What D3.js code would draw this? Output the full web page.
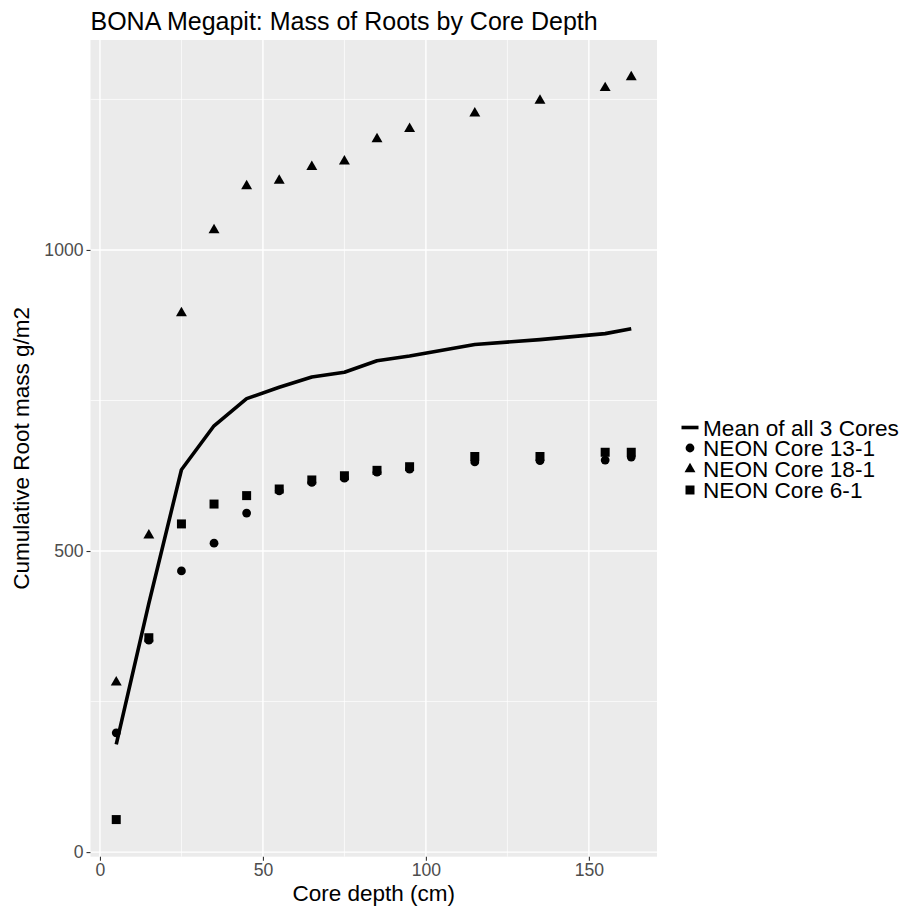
<!DOCTYPE html>
<html>
<head>
<meta charset="utf-8">
<script src="https://cdnjs.cloudflare.com/ajax/libs/d3/7.8.5/d3.min.js"></script>
<style>
html,body{margin:0;padding:0;background:#fff;}
svg{display:block;font-family:"Liberation Sans",Arial,sans-serif;}
</style>
</head>
<body>
<svg id="chart" width="907" height="912"></svg>
<script>
// ---- data ----
const depths = [5, 15, 25, 35, 45, 55, 65, 75, 85, 95, 115, 135, 155, 163];
const core13 = [198, 352, 467, 513, 563, 600, 614, 621, 631, 636, 648, 650, 651, 656];
const core18 = [282, 526, 895, 1033, 1106, 1115, 1138, 1147, 1184, 1201, 1227, 1248, 1269, 1287];
const core6  = [54, 356, 545, 578, 592, 603, 618, 625, 634, 640, 657, 657, 664, 664];
const meanAll = [179, 413, 635, 708, 753, 772, 789, 797, 816, 824, 843, 851, 861, 869];
const xTicks = [0, 50, 100, 150];
const yTicks = [0, 500, 1000];
const xMinor = [25, 75, 125];
const yMinor = [250, 750, 1250];
const seriesNames = ["Mean of all 3 Cores", "NEON Core 13-1", "NEON Core 18-1", "NEON Core 6-1"];
const titleText = "BONA Megapit: Mass of Roots by Core Depth";
const xTitle = "Core depth (cm)";
const yTitle = "Cumulative Root mass g/m2";

// ---- layout ----
const panel = {left: 90.5, right: 657, top: 40, bottom: 856.7};
const svg = d3.select("#chart");

function expand(ext) { const d = (ext[1] - ext[0]) * 0.05; return [ext[0] - d, ext[1] + d]; }
const x = d3.scaleLinear().domain(expand(d3.extent(depths))).range([panel.left, panel.right]);
const allY = core13.concat(core18, core6, meanAll);
const y = d3.scaleLinear().domain(expand(d3.extent(allY))).range([panel.bottom, panel.top]);

// panel background
svg.append("rect").attr("x", panel.left).attr("y", panel.top)
  .attr("width", panel.right - panel.left).attr("height", panel.bottom - panel.top)
  .attr("fill", "#EBEBEB");

const grid = svg.append("g");
grid.selectAll(".xminor").data(xMinor).join("line")
  .attr("x1", d => x(d)).attr("x2", d => x(d)).attr("y1", panel.top).attr("y2", panel.bottom)
  .attr("stroke", "#fff").attr("stroke-width", 0.7);
grid.selectAll(".yminor").data(yMinor).join("line")
  .attr("y1", d => y(d)).attr("y2", d => y(d)).attr("x1", panel.left).attr("x2", panel.right)
  .attr("stroke", "#fff").attr("stroke-width", 0.7);
grid.selectAll(".xmajor").data(xTicks).join("line")
  .attr("x1", d => x(d)).attr("x2", d => x(d)).attr("y1", panel.top).attr("y2", panel.bottom)
  .attr("stroke", "#fff").attr("stroke-width", 1.4);
grid.selectAll(".ymajor").data(yTicks).join("line")
  .attr("y1", d => y(d)).attr("y2", d => y(d)).attr("x1", panel.left).attr("x2", panel.right)
  .attr("stroke", "#fff").attr("stroke-width", 1.4);

// axes
const xAxis = d3.axisBottom(x).tickValues(xTicks).tickSize(4).tickPadding(3).tickFormat(d3.format("d"));
const gx = svg.append("g").attr("transform", `translate(0,${panel.bottom})`).call(xAxis);
gx.select(".domain").remove();
gx.selectAll(".tick line").attr("stroke", "#333").attr("stroke-width", 1.1);
gx.selectAll(".tick text").attr("fill", "#4D4D4D").attr("font-size", "17.6px")
  .attr("font-family", "Liberation Sans, Arial, sans-serif");

const yAxis = d3.axisLeft(y).tickValues(yTicks).tickSize(4).tickPadding(3).tickFormat(d3.format("d"));
const gy = svg.append("g").attr("transform", `translate(${panel.left},0)`).call(yAxis);
gy.select(".domain").remove();
gy.selectAll(".tick line").attr("stroke", "#333").attr("stroke-width", 1.1);
gy.selectAll(".tick text").attr("fill", "#4D4D4D").attr("font-size", "17.6px")
  .attr("font-family", "Liberation Sans, Arial, sans-serif");

// titles
svg.append("text").attr("x", panel.left).attr("y", 29.5)
  .attr("font-size", "25px").attr("fill", "#000").text(titleText);
svg.append("text").attr("x", (panel.left + panel.right) / 2).attr("y", 901)
  .attr("text-anchor", "middle").attr("font-size", "22.5px").attr("fill", "#000").text(xTitle);
svg.append("text")
  .attr("transform", `translate(29,${(panel.top + panel.bottom) / 2}) rotate(-90)`)
  .attr("text-anchor", "middle").attr("font-size", "22.5px").attr("fill", "#000").text(yTitle);

// symbols
const sym = {
  circle: d3.symbol().type(d3.symbolCircle).size(Math.PI * 4.4 * 4.4),
  triangle: d3.symbol().type(d3.symbolTriangle).size(52),
  square: d3.symbol().type(d3.symbolSquare).size(81)
};

const pts = svg.append("g");
function drawPoints(vals, s) {
  pts.selectAll(null).data(depths.map((d, i) => [d, vals[i]])).join("path")
    .attr("d", s).attr("fill", "#000")
    .attr("transform", d => `translate(${x(d[0])},${y(d[1])})`);
}
drawPoints(core13, sym.circle);
drawPoints(core18, sym.triangle);
drawPoints(core6, sym.square);

// mean line
const line = d3.line().x((d, i) => x(depths[i])).y(d => y(d));
svg.append("path").datum(meanAll).attr("d", line)
  .attr("fill", "none").attr("stroke", "#000").attr("stroke-width", 3.6)
  .attr("stroke-linejoin", "round").attr("stroke-linecap", "butt");

// legend
const lg = svg.append("g");
const rowY = [427.5, 448, 469, 490];
const keyX = 690;
lg.append("line").attr("x1", keyX - 8.5).attr("x2", keyX + 8.5).attr("y1", rowY[0]).attr("y2", rowY[0])
  .attr("stroke", "#000").attr("stroke-width", 3.6);
const legSyms = [null, sym.circle, sym.triangle, sym.square];
legSyms.forEach((s, i) => {
  if (s) lg.append("path").attr("d", s).attr("fill", "#000").attr("transform", `translate(${keyX},${rowY[i]})`);
});
seriesNames.forEach((n, i) => {
  lg.append("text").attr("x", 703).attr("y", rowY[i]).attr("dy", "0.36em")
    .attr("font-size", "22.6px").attr("fill", "#000").text(n);
});
</script>
</body>
</html>
